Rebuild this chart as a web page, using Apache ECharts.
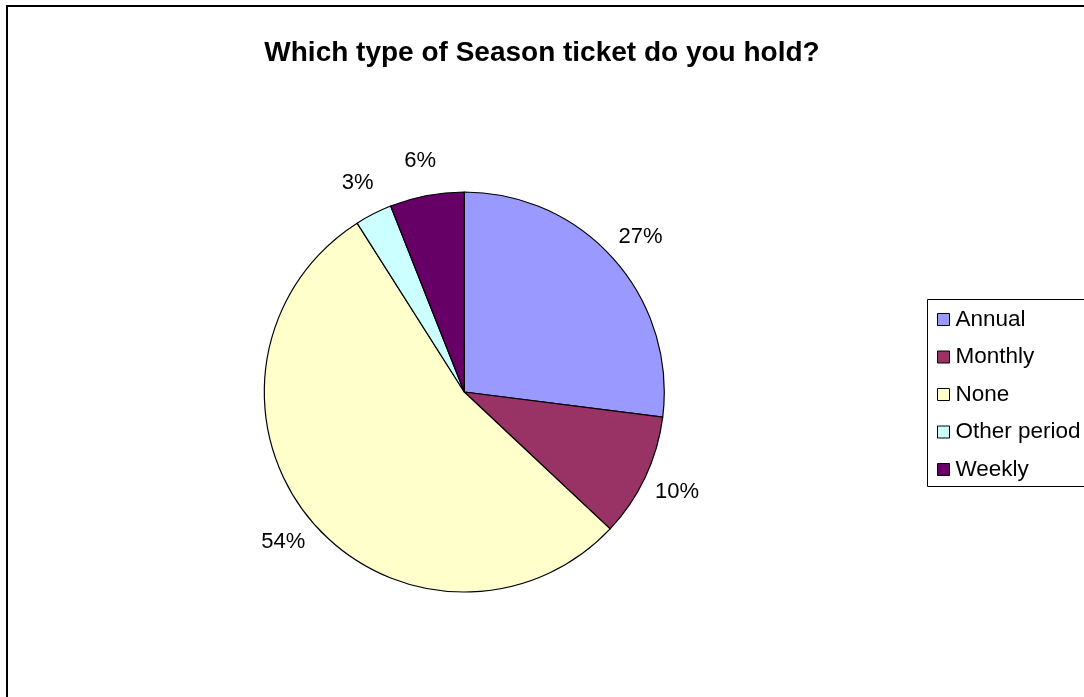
<!DOCTYPE html>
<html>
<head>
<meta charset="utf-8">
<script src="https://cdn.jsdelivr.net/npm/echarts@6/dist/echarts.min.js"></script>
<style>
  html, body { margin: 0; padding: 0; background: #fff; }
  #chart { width: 1084px; height: 697px; }
</style>
</head>
<body>
<div id="chart"></div>
<script>
// Survey answers: share of respondents by season ticket type (%)
const categories = ['Annual', 'Monthly', 'None', 'Other period', 'Weekly'];
const shares = [27, 10, 54, 3, 6];
const sliceColors = ['#9999FF', '#993366', '#FFFFCC', '#CCFFFF', '#660066'];

const font = '"Liberation Sans", Arial, sans-serif';
const pieData = categories.map((name, i) => ({
  name: name,
  value: shares[i],
  itemStyle: { color: sliceColors[i] }
}));

const chart = echarts.init(document.getElementById('chart'), null, { renderer: 'canvas' });

chart.setOption({
  backgroundColor: '#ffffff',
  animation: false,
  title: {
    text: 'Which type of Season ticket do you hold?',
    left: 'center',
    top: 34,
    padding: [5, 5, 5, 13],
    textStyle: {
      fontFamily: font,
      fontWeight: 'bold',
      fontSize: 28,
      color: '#000'
    }
  },
  legend: {
    orient: 'vertical',
    left: 932,
    top: 303,
    itemWidth: 12,
    itemHeight: 12,
    itemGap: 14.5,
    icon: 'rect',
    data: categories,
    itemStyle: { borderColor: '#000', borderWidth: 1 },
    textStyle: {
      fontFamily: font,
      fontSize: 22.5,
      lineHeight: 22,
      color: '#000',
      padding: [0, 0, 0, 1]
    },
    selectedMode: false
  },
  graphic: [
    {
      type: 'rect',
      shape: { x: 7, y: 6, width: 1200, height: 800 },
      style: { fill: 'none', stroke: '#000', lineWidth: 2 },
      silent: true,
      z: 100
    },
    {
      type: 'rect',
      shape: { x: 927.5, y: 299.5, width: 300, height: 187 },
      style: { fill: 'none', stroke: '#000', lineWidth: 1 },
      silent: true,
      z: 100
    }
  ],
  series: [
    {
      type: 'pie',
      center: [464.3, 392],
      radius: 200,
      startAngle: 90,
      clockwise: true,
      avoidLabelOverlap: false,
      itemStyle: { borderColor: '#000', borderWidth: 1.2 },
      label: { show: false },
      labelLine: { show: false },
      emphasis: { disabled: true },
      data: pieData
    },
    {
      // transparent ring that carries the percentage labels just outside the pie
      type: 'pie',
      center: [464.3, 392],
      radius: [218, 246],
      startAngle: 90,
      clockwise: true,
      silent: true,
      avoidLabelOverlap: false,
      itemStyle: { color: 'rgba(0,0,0,0)', borderWidth: 0 },
      label: {
        show: true,
        position: 'inside',
        fontFamily: font,
        fontSize: 22,
        color: '#000',
        formatter: p => Math.round(p.percent) + '%'
      },
      labelLine: { show: false },
      emphasis: { disabled: true },
      data: pieData.map(d => ({ name: d.name, value: d.value, itemStyle: { color: 'rgba(0,0,0,0)' } }))
    }
  ]
});
</script>
</body>
</html>
